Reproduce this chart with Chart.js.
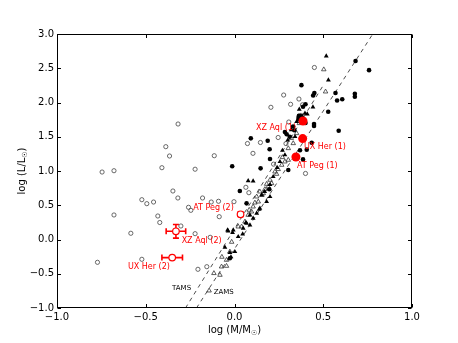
<!DOCTYPE html>
<html><head><meta charset="utf-8">
<script src="https://cdn.jsdelivr.net/npm/chart.js@4/dist/chart.umd.min.js"></script>
<style>html,body{margin:0;padding:0;background:#fff}</style>
</head><body>
<canvas id="c" width="458" height="343"></canvas>
<script>
// ---- data (log M, log L) ----
const xTicks = [-1.0, -0.5, 0.0, 0.5, 1.0];
const yTicks = [-1.0, -0.5, 0.0, 0.5, 1.0, 1.5, 2.0, 2.5, 3.0];
const xTitle = ['log (M/M', '\u2609', ')'];
const yTitle = ['log (L/L', '\u2609', ')'];

const openCircles = [
[-0.772,-0.333],[-0.746,0.985],[-0.679,1.004],[-0.679,0.358],[-0.584,0.091],[-0.522,0.581],[-0.494,0.523],
[-0.456,0.547],[-0.522,-0.289],[-0.432,0.343],[-0.421,0.248],[-0.409,1.048],[-0.347,0.708],[-0.319,0.606],
[-0.302,0.197],[-0.259,0.470],[-0.246,0.426],[-0.222,1.026],[-0.222,0.085],[-0.180,0.606],[-0.137,0.032],
[-0.131,0.547],[-0.090,0.558],[-0.086,0.333],[-0.206,-0.435],[-0.156,-0.397],[-0.366,1.219],[-0.318,1.686],
[-0.387,1.355],[-0.114,1.223],[0.450,2.511],[0.277,2.109],[0.363,2.051],[0.205,1.930],[0.316,1.974],
[0.383,1.966],[0.306,1.715],[0.246,1.489],[0.146,1.416],[0.073,1.401],[0.104,1.258],[0.400,0.964],
[0.081,0.683],[0.064,0.762],[-0.003,0.552],[0.22,1.10],[0.29,1.40]
];
const filledCircles = [
[0.682,2.606],[0.758,2.472],[0.377,2.253],[0.450,2.139],[0.443,2.102],[0.569,2.139],[0.578,2.029],
[0.607,2.047],[0.678,2.127],[0.678,2.085],[0.528,1.866],[0.400,1.974],[0.386,1.939],[0.363,1.807],
[0.448,1.686],[0.448,1.657],[0.587,1.588],[0.435,1.413],[0.284,1.569],[0.311,1.500],[0.187,1.442],
[0.092,1.477],[0.198,1.317],[-0.013,1.069],[0.147,1.039],[0.386,1.169],[0.337,1.595],[0.294,1.536],
[0.369,1.302],[0.407,1.312],[0.030,0.708],[0.068,0.528],[0.196,0.733],[0.303,1.015],[0.200,1.175],
[0.36,1.76],[0.40,1.70],[0.33,1.65],[-0.026,-0.274]
];
const filledTriangles = [
[0.517,2.679],[0.529,2.327],[0.442,1.934],[0.365,1.901],[-0.036,0.124],[-0.011,0.099],[0.021,0.041],
[0.046,0.080],[0.068,0.236],[-0.054,-0.114],[0.002,-0.178],[-0.026,-0.193],[-0.020,-0.255],[-0.039,0.139],
[0.049,0.164],[0.064,0.245],[0.087,0.358],[0.139,0.441],[0.218,0.917],[0.077,0.858],[0.105,0.854],
[0.397,1.842],[0.341,1.501],[0.284,1.234],[0.256,1.136],[-0.007,0.139],[0.153,0.650],[0.200,0.625],
[0.181,0.552],[0.143,0.455],[0.125,0.382],[0.105,0.309],[0.087,0.212],[0.37,1.81],[0.41,1.83],
[0.35,1.72],[0.32,1.60],[0.30,1.45],[0.27,1.30],[0.36,1.80],[0.38,1.81],[0.24,1.05],[0.20,0.80],[0.17,0.70]
];
const openTriangles = [
[0.503,2.482],[0.513,2.158],[-0.016,-0.036],[-0.026,-0.178],[-0.045,-0.299],[-0.073,-0.397],[-0.045,-0.387],
[-0.071,-0.255],[-0.116,-0.493],[-0.082,-0.518],[-0.143,-0.747],[0.021,0.187],[0.083,0.431],[0.105,0.479],
[0.115,0.537],[0.125,0.625],[0.143,0.698],[0.171,0.733],[0.181,0.810],[0.200,0.869],[0.228,0.990],
[0.246,1.025],[0.266,1.088],[0.284,1.136],[0.303,1.161],[0.331,1.404],[0.303,1.331],[0.365,1.696],
[0.134,0.552],[0.155,0.650],[0.237,0.956],[0.209,0.820],[0.190,0.771],[0.162,0.674],[0.096,0.406],
[0.077,0.358],[0.059,0.260],[0.040,0.187],[0.35,1.55],[0.38,1.78],[0.27,1.20],[0.32,1.48]
];
// primaries (1)
const primNames = ['XZ Aql (1)', 'UX Her (1)', 'AT Peg (1)'];
const primX = [0.386, 0.384, 0.346];
const primY = [1.730, 1.473, 1.204];
// secondaries (2) with error bars
const secNames = ['XZ Aql (2)', 'UX Her (2)', 'AT Peg (2)'];
const secX = [-0.330, -0.351, 0.034];
const secY = [0.120, -0.264, 0.368];
const secXErr = [0.055, 0.058, 0.012];
const secYErr = [0.100, 0.0, 0.025];
// ZAMS / TAMS relations
const tamsX = [-0.276, 0.50];
const tamsY = [-1.0, 2.25];
const zamsX = [-0.214, 0.779];
const zamsY = [-1.0, 3.0];
const lineNames = ['TAMS', 'ZAMS'];
const lineLabelX = [-0.298, -0.061];
const lineLabelY = [-0.715, -0.766];

// ---- styles ----
const FONT = 'DejaVu Sans';
const labelStyle = {
  'XZ Aql (1)': {align:'right', dx:-7, dy:6.6},
  'UX Her (1)': {align:'left', dx:1.3, dy:8.4},
  'AT Peg (1)': {align:'left', dx:1, dy:9.3},
  'XZ Aql (2)': {align:'left', dx:5.7, dy:9.3},
  'UX Her (2)': {align:'right', dx:-2.3, dy:9.4},
  'AT Peg (2)': {align:'right', dx:-6.7, dy:-6.3}
};
const pts = a => a.map(p => ({x:p[0], y:p[1]}));
const zip = (xs, ys) => xs.map((x,i) => ({x, y:ys[i]}));

const errorBars = {
  id:'errorBars',
  beforeDatasetsDraw(chart){
    const {ctx, scales:{x, y}} = chart;
    ctx.save();
    ctx.strokeStyle = '#ff0000'; ctx.lineWidth = 1.6;
    secX.forEach((v,i) => {
      const px = x.getPixelForValue(v), py = y.getPixelForValue(secY[i]);
      const cap = 3;
      if (secXErr[i] > 0) {
        const a = x.getPixelForValue(v - secXErr[i]), b = x.getPixelForValue(v + secXErr[i]);
        ctx.beginPath(); ctx.moveTo(a, py); ctx.lineTo(b, py);
        ctx.moveTo(a, py-cap); ctx.lineTo(a, py+cap); ctx.moveTo(b, py-cap); ctx.lineTo(b, py+cap); ctx.stroke();
      }
      if (secYErr[i] > 0) {
        const a = y.getPixelForValue(secY[i] - secYErr[i]), b = y.getPixelForValue(secY[i] + secYErr[i]);
        ctx.beginPath(); ctx.moveTo(px, a); ctx.lineTo(px, b);
        ctx.moveTo(px-cap, a); ctx.lineTo(px+cap, a); ctx.moveTo(px-cap, b); ctx.lineTo(px+cap, b); ctx.stroke();
      }
    });
    ctx.restore();
  }
};

function drawSubText(ctx, parts, size){
  // returns total width; draws centered at 0,0 (ctx already translated)
  ctx.font = size + 'px "' + FONT + '"';
  const w0 = ctx.measureText(parts[0]).width;
  ctx.font = (size*0.7) + 'px "' + FONT + '"';
  const w1 = ctx.measureText(parts[1]).width;
  ctx.font = size + 'px "' + FONT + '"';
  const w2 = ctx.measureText(parts[2]).width;
  let xx = -(w0+w1+w2)/2;
  ctx.textBaseline = 'middle'; ctx.textAlign = 'left';
  ctx.fillText(parts[0], xx, 0); xx += w0;
  ctx.font = (size*0.7) + 'px "' + FONT + '"';
  ctx.fillText(parts[1], xx, 3); xx += w1;
  ctx.font = size + 'px "' + FONT + '"';
  ctx.fillText(parts[2], xx, 0);
}

const frame = {
  id:'frame',
  afterDatasetsDraw(chart){
    const {ctx, chartArea:a, scales:{x, y}} = chart;
    ctx.save();
    // labels
    ctx.fillStyle = '#ff0000';
    ctx.font = '8px "' + FONT + '"';
    ctx.textBaseline = 'middle';
    const lab = (name, vx, vy) => {
      const s = labelStyle[name];
      ctx.textAlign = s.align;
      ctx.fillText(name, x.getPixelForValue(vx) + s.dx, y.getPixelForValue(vy) + s.dy);
    };
    primNames.forEach((n,i) => lab(n, primX[i], primY[i]));
    secNames.forEach((n,i) => lab(n, secX[i], secY[i]));
    ctx.fillStyle = '#000';
    ctx.font = '7px "' + FONT + '"';
    ctx.textAlign = 'center';
    lineNames.forEach((n,i) => ctx.fillText(n, x.getPixelForValue(lineLabelX[i]), y.getPixelForValue(lineLabelY[i])));
    // frame
    const L = Math.round(a.left)+0.5, R = Math.round(a.right)-0.5, T = Math.round(a.top)+0.5, B = Math.round(a.bottom)-0.5;
    ctx.strokeStyle = '#000'; ctx.lineWidth = 1;
    ctx.strokeRect(L, T, R-L, B-T);
    const tl = 3.5;
    ctx.beginPath();
    xTicks.forEach(v => { const p = Math.round(x.getPixelForValue(v))+0.5;
      ctx.moveTo(p, B); ctx.lineTo(p, B-tl); ctx.moveTo(p, T); ctx.lineTo(p, T+tl); });
    yTicks.forEach(v => { const p = Math.round(y.getPixelForValue(v))+0.5;
      ctx.moveTo(L, p); ctx.lineTo(L+tl, p); ctx.moveTo(R, p); ctx.lineTo(R-tl, p); });
    ctx.stroke();
    // axis titles
    ctx.fillStyle = '#000';
    ctx.save(); ctx.translate((a.left+a.right)/2, 330); drawSubText(ctx, xTitle, 10); ctx.restore();
    ctx.save(); ctx.translate(22, (a.top+a.bottom)/2); ctx.rotate(-Math.PI/2); drawSubText(ctx, yTitle, 10); ctx.restore();
    ctx.restore();
  }
};

const fmt = v => (v < 0 ? '\u2212' : '') + Math.abs(v).toFixed(1);

new Chart(document.getElementById('c'), {
  type:'scatter',
  data:{datasets:[
    {label:'primaries', data:zip(primX, primY), pointStyle:'circle', pointRadius:4.5, backgroundColor:'#ff0000', borderColor:'#ff0000', borderWidth:0},
    {label:'secondaries', data:zip(secX, secY), pointStyle:'circle', pointRadius:3.3, backgroundColor:'#ffffff', borderColor:'#ff0000', borderWidth:1.2},
    {label:'filled circles', data:pts(filledCircles), pointStyle:'circle', pointRadius:2.3, backgroundColor:'#000', borderColor:'#000', borderWidth:0},
    {label:'filled triangles', data:pts(filledTriangles), pointStyle:'triangle', pointRadius:2.8, backgroundColor:'#000', borderColor:'#000', borderWidth:0},
    {label:'open triangles', data:pts(openTriangles), pointStyle:'triangle', pointRadius:2.6, backgroundColor:'rgba(255,255,255,0)', borderColor:'#333', borderWidth:0.8},
    {label:'open circles', data:pts(openCircles), pointStyle:'circle', pointRadius:2.1, backgroundColor:'rgba(255,255,255,0)', borderColor:'#444', borderWidth:0.8},
    {label:'TAMS', type:'line', data:zip(tamsX, tamsY), showLine:true, borderColor:'#222', borderWidth:0.8, borderDash:[4,4], pointRadius:0, fill:false},
    {label:'ZAMS', type:'line', data:zip(zamsX, zamsY), showLine:true, borderColor:'#222', borderWidth:0.8, borderDash:[4,4], pointRadius:0, fill:false}
  ]},
  options:{
    responsive:false, animation:false, devicePixelRatio:1,
    layout:{padding:{top:34, right:46, left:0, bottom:0}},
    plugins:{legend:{display:false}, tooltip:{enabled:false}},
    scales:{
      x:{type:'linear', min:-1, max:1,
         afterBuildTicks:s => { s.ticks = xTicks.map(v => ({value:v})); },
         afterFit:s => { s.height = 35; },
         grid:{display:false, drawTicks:false}, border:{display:false},
         ticks:{callback:fmt, color:'#000', padding:3, maxRotation:0, font:{family:FONT, size:10}}},
      y:{type:'linear', min:-1, max:3,
         afterBuildTicks:s => { s.ticks = yTicks.map(v => ({value:v})); },
         afterFit:s => { s.width = 57; },
         grid:{display:false, drawTicks:false}, border:{display:false},
         ticks:{callback:fmt, color:'#000', padding:3, font:{family:FONT, size:10}}}
    }
  },
  plugins:[errorBars, frame]
});
</script>
</body></html>
